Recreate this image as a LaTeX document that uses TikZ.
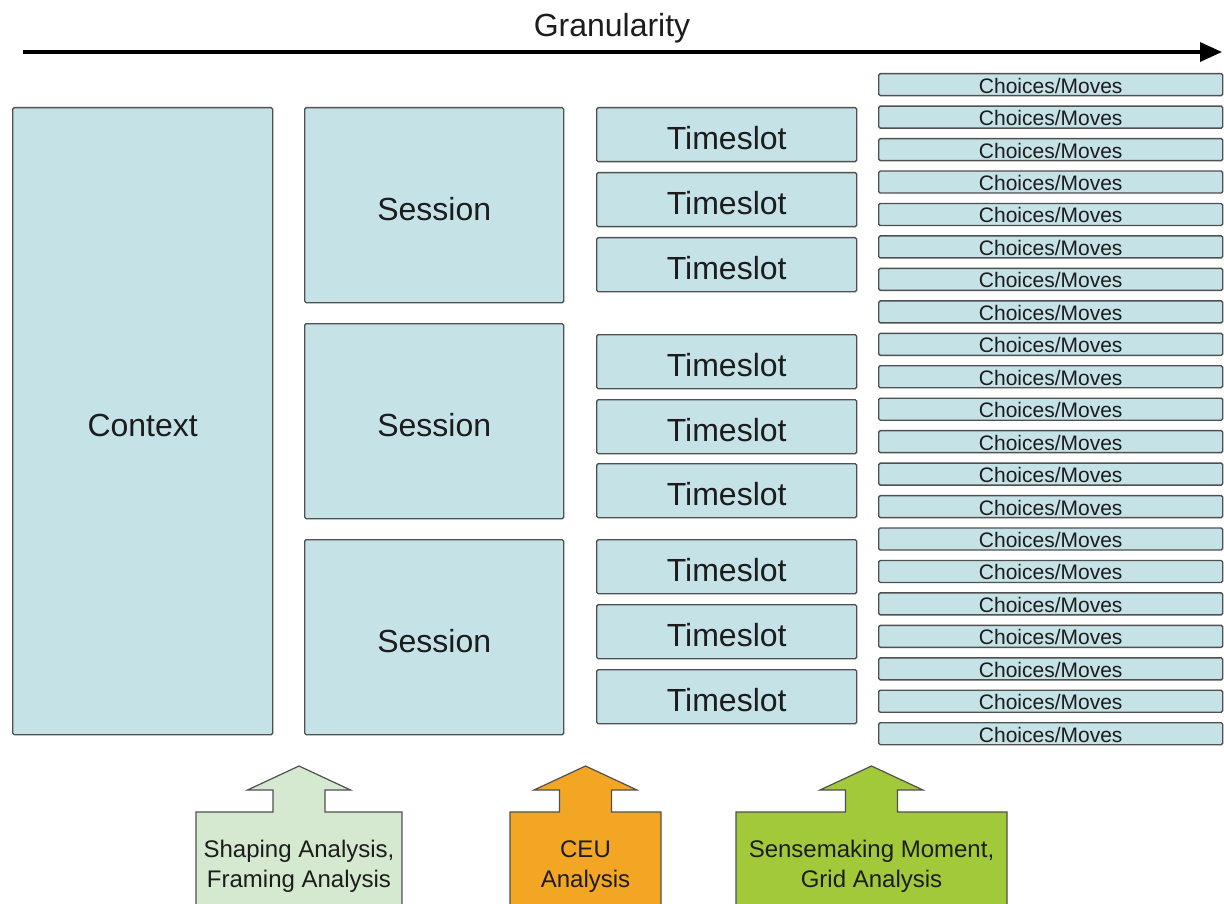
\documentclass[tikz,border=0pt]{standalone}
\usepackage{fontspec}
\setmainfont{Liberation Sans}
\usetikzlibrary{arrows.meta}
\definecolor{cellfill}{RGB}{197,226,230}
\definecolor{cellline}{RGB}{80,80,80}
\definecolor{shapefill}{RGB}{213,232,208}
\definecolor{ceufill}{RGB}{243,166,35}
\definecolor{gridfill}{RGB}{162,201,58}
\definecolor{ink}{RGB}{28,28,28}
\begin{document}
\begin{tikzpicture}[x=1pt,y=-1pt,
  cell/.style={draw=cellline, line width=1.4pt, fill=cellfill, rounded corners=1.5pt,
    inner sep=0pt, text=ink, anchor=north west},
  bigcell/.style={cell, font=\fontsize{32}{38}\selectfont, text height=30pt, text depth=0pt},
  ctxbox/.style={bigcell, minimum width=260pt, minimum height=627pt},
  sessbox/.style={bigcell, minimum width=259pt, minimum height=195pt},
  slotbox/.style={bigcell, minimum width=260pt, minimum height=54pt},
  movebox/.style={cell, font=\fontsize{21}{24}\selectfont, text height=17pt, text depth=0pt,
    minimum width=344pt, minimum height=22pt},
  upshape/.style={draw=cellline, line width=1.2pt},
  uplabel/.style={font=\fontsize{24}{30}\selectfont, text=ink, align=center, anchor=base, inner sep=0pt}]
\useasboundingbox (0,0) rectangle (1224,904);

% granularity axis
\coordinate (axisstart) at (23,52);
\coordinate (axisend) at (1222,52);
\draw[line width=3.5pt, -{Triangle[length=22pt,width=19pt]}] (axisstart) -- (axisend);
\node[font=\fontsize{32}{38}\selectfont, text=ink, anchor=base, inner sep=0pt] (gran) at (612,37) {Granularity};

% context
\node[ctxbox] (context) at (12,107) {Context};

% sessions
\node[sessbox] (sess1) at (304,107) {Session};
\node[sessbox] (sess2) at (304,323) {Session};
\node[sessbox] (sess3) at (304,539) {Session};

% timeslots
\foreach \t [count=\i] in {107,172,237,334,399,463,539,604,669}
  \node[slotbox] (slot\i) at (596,\t) {Timeslot};

% choices / moves
\foreach \i in {0,...,20}
  \node[movebox] (move\i) at (878,{73+32.45*\i}) {Choices/Moves};

% analysis arrows pointing up
\begin{scope}
\clip (0,0) rectangle (1224,904);
\foreach \cx/\hw/\col in {299/103/shapefill, 585.5/75.5/ceufill, 871.5/135.5/gridfill}
  \draw[upshape, fill=\col] (\cx-\hw,915) -- (\cx-\hw,812) -- (\cx-26,812) -- (\cx-26,790)
    -- (\cx-51.5,790) -- (\cx,766) -- (\cx+51.5,790) -- (\cx+26,790) -- (\cx+26,812)
    -- (\cx+\hw,812) -- (\cx+\hw,915);
\end{scope}
% two-line labels, anchored at the baseline of the lower line
\node[uplabel] (shaping) at (299,887) {Shaping Analysis,\\Framing Analysis};
\node[uplabel] (ceu) at (585.5,887) {CEU\\Analysis};
\node[uplabel] (sense) at (871.5,887) {Sensemaking Moment,\\Grid Analysis};
\end{tikzpicture}
\end{document}
